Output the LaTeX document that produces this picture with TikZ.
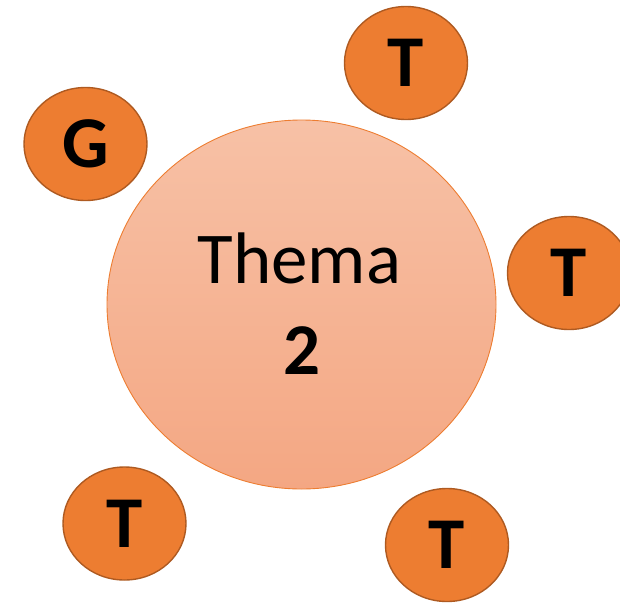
\documentclass[tikz,border=0pt]{standalone}
\usepackage{fontspec}
\setmainfont{Carlito}
\usetikzlibrary{shapes.geometric}
\definecolor{orfill}{HTML}{ED7D31}
\definecolor{ordraw}{HTML}{AE5A21}
\definecolor{bigtop}{RGB}{247,193,166}
\definecolor{bigbot}{RGB}{244,167,131}
\definecolor{bigline}{HTML}{ED7D31}
\tikzset{
  small/.style={ellipse, fill=orfill, draw=ordraw, line width=1.4pt,
    minimum width=123pt, minimum height=113pt, inner sep=0pt,
    font=\fontsize{73}{80}\selectfont\bfseries},
  big/.style={ellipse, top color=bigtop, bottom color=bigbot, draw=bigline,
    line width=0.9pt, minimum width=389pt, minimum height=369pt, inner sep=0pt},
  bigtext/.style={anchor=base, inner sep=0pt, font=\fontsize{73}{80}\selectfont}
}
\begin{document}
\begin{tikzpicture}[x=1pt,y=-1pt]
\useasboundingbox (0,0) rectangle (620,602);
\node[big] (thema) at (301.5,304.5) {};
\node[bigtext] (lab) at (299.5,283) {Thema};
\node[bigtext, font=\fontsize{73}{80}\selectfont\bfseries] (num) at (302,374) {2};
\node[small] (g) at (85.5,144) {G};
\node[small] (t1) at (406,63) {T};
\node[small] (t2) at (569,273) {T};
\node[small] (t3) at (124.5,523.5) {T};
\node[small] (t4) at (447,545) {T};
\end{tikzpicture}
\end{document}
